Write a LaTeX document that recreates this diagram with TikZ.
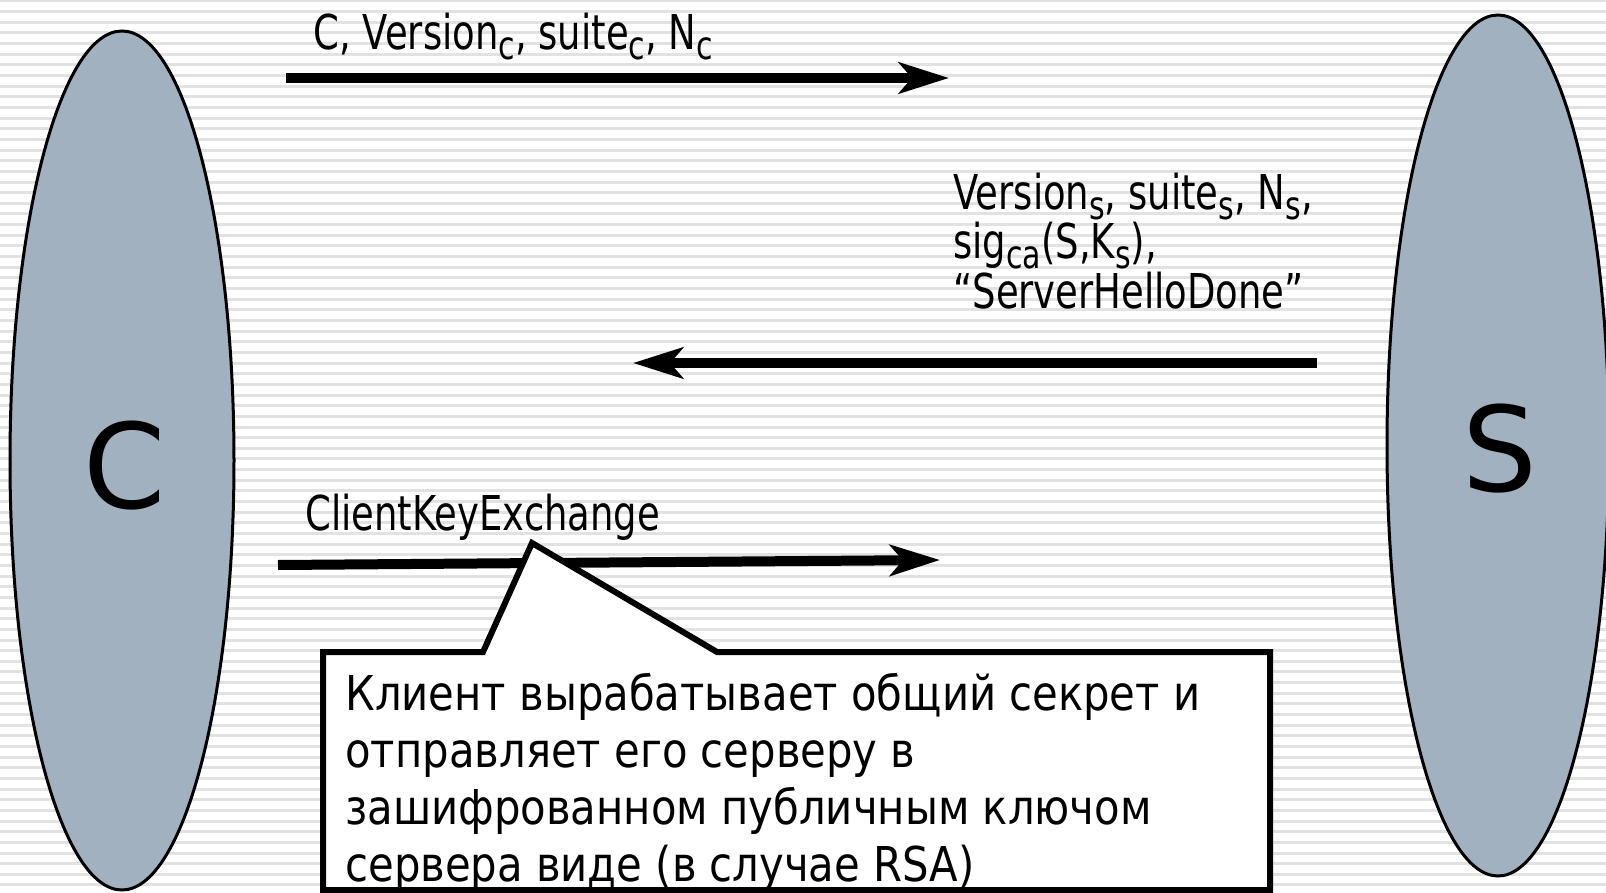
\documentclass[tikz,border=0pt]{standalone}
\usepackage{fontspec}
\setmainfont{DejaVu Sans}
\newfontfamily\msgfont[FakeStretch=0.77]{DejaVu Sans}
\newfontfamily\notefont[FakeStretch=0.87]{DejaVu Sans}
\usetikzlibrary{arrows.meta,shapes.geometric}

\definecolor{partyfill}{RGB}{162,177,192}
\definecolor{stripecol}{RGB}{226,226,226}

% subscript set a little smaller and lowered, without widening the line box
\newcommand\sbs[1]{\raisebox{-5pt}[0pt][0pt]{\fontsize{19.5pt}{19.5pt}\selectfont #1}}

\tikzset{
  party/.style={ellipse, draw=black, line width=1.5pt, fill=partyfill, inner sep=0pt},
  partyname/.style={font=\fontsize{59pt}{59pt}\selectfont, anchor=base, inner sep=0pt},
  msg/.style={font=\msgfont\fontsize{24pt}{24pt}\selectfont, anchor=base west, inner sep=0pt},
  note/.style={font=\notefont\fontsize{24pt}{24pt}\selectfont, anchor=base west, inner sep=0pt},
  flow/.style={line width=5pt, -{Stealth[length=25pt,width=15.5pt,inset=6.5pt]}},
  callout/.style={draw=black, line width=3pt, fill=white, line join=miter},
  stripe/.style={draw=stripecol, line width=1.5pt}
}

\begin{document}
\begin{tikzpicture}[x=0.5pt,y=-0.5pt]
  \useasboundingbox (0,0) rectangle (1606,893);
  % striped background
  \foreach \i in {0,...,83}
    \draw[stripe] (0,{1+10.65*\i}) -- (1606,{1+10.65*\i});

  % the two parties
  \node[party, minimum width=112pt, minimum height=429.5pt] (C) at (122,460.5) {};
  \node[party, minimum width=111pt, minimum height=430.5pt] (S) at (1498,445.5) {};
  \node[partyname] (Cname) at (125,508) {C};
  \node[partyname] (Sname) at (1500,491) {S};

  % message flow
  \coordinate (m1s) at (286,78);  \coordinate (m1e) at (949,78);
  \coordinate (m2s) at (1317,363); \coordinate (m2e) at (633,363);
  \coordinate (m3s) at (278,565); \coordinate (m3e) at (940,560);
  \draw[flow] (m1s) -- (m1e);
  \draw[flow] (m2s) -- (m2e);
  \draw[flow] (m3s) -- (m3e);

  \node[msg] (hello) at (313,50) {C, Version\sbs{c}, suite\sbs{c}, N\sbs{c}};
  \node[msg] (srv1) at (953,210) {Version\sbs{s}, suite\sbs{s}, N\sbs{s},};
  \node[msg] (srv2) at (953,259) {sig\sbs{ca}(S,K\sbs{s}),};
  \node[msg] (srv3) at (953,308) {“ServerHelloDone”};
  \node[msg] (cke) at (305,530) {ClientKeyExchange};

  % callout explaining the key exchange
  \coordinate (tip) at (532,543);
  \draw[callout] (323,652) -- (483,652) -- (tip) -- (717,652) -- (1270,652)
    -- (1270,890) -- (323,890) -- cycle;
  \node[note] (n1) at (345,710) {Клиент вырабатывает общий секрет и};
  \node[note] (n2) at (345,767) {отправляет его серверу в};
  \node[note] (n3) at (345,824) {зашифрованном публичным ключом};
  \node[note] (n4) at (345,881) {сервера виде (в случае RSA)};
\end{tikzpicture}
\end{document}
